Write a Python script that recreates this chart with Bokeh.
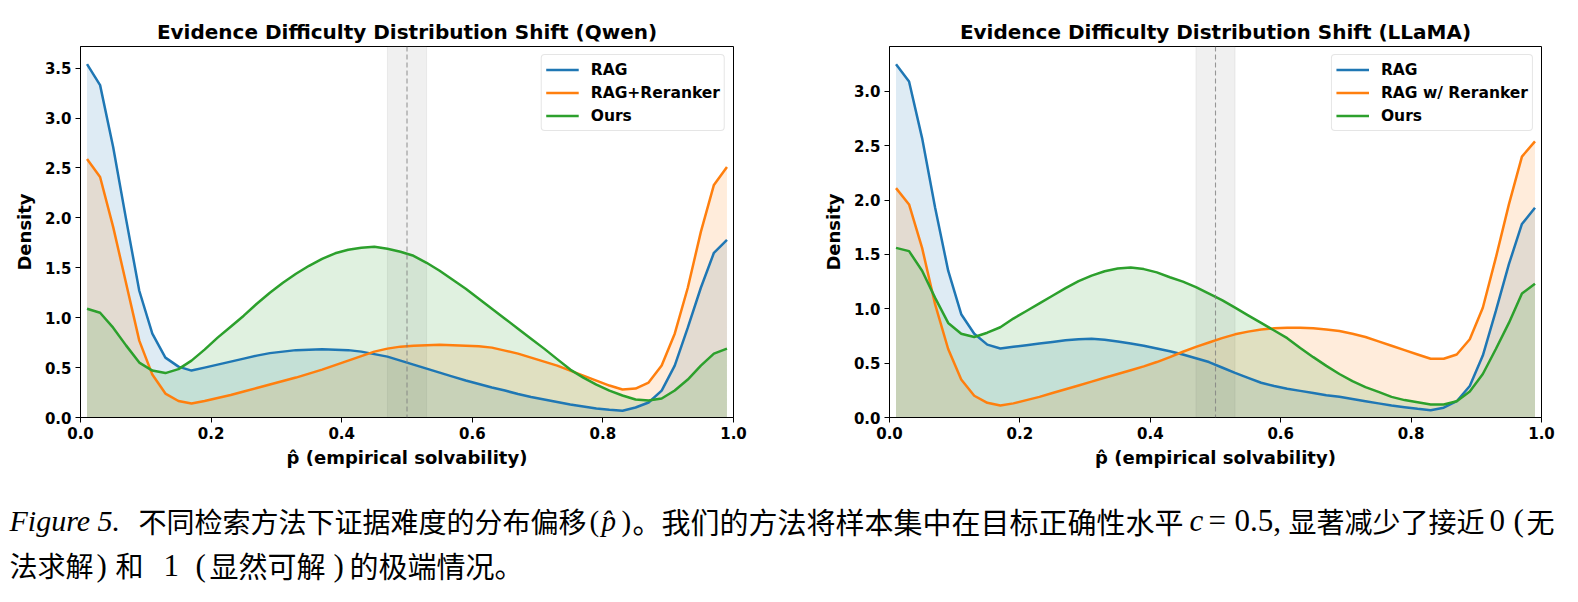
from bokeh.plotting import figure
from bokeh.models import (Range1d, FixedTicker, PrintfTickFormatter, Span,
                          BoxAnnotation, Legend, LegendItem)
from bokeh.layouts import column, row
from bokeh.embed import file_html
from bokeh.resources import INLINE
from bokeh.core.properties import value

# ---------------- data ----------------
p_hat = [0.01, 0.03, 0.05, 0.07, 0.09, 0.11, 0.13, 0.15, 0.17, 0.19,
         0.21, 0.23, 0.25, 0.27, 0.29, 0.31, 0.33, 0.35, 0.37, 0.39,
         0.41, 0.43, 0.45, 0.47, 0.49, 0.51, 0.53, 0.55, 0.57, 0.59,
         0.61, 0.63, 0.65, 0.67, 0.69, 0.71, 0.73, 0.75, 0.77, 0.79,
         0.81, 0.83, 0.85, 0.87, 0.89, 0.91, 0.93, 0.95, 0.97, 0.99]

qwen_rag = [3.54, 3.33, 2.71, 1.98, 1.27, 0.84, 0.60, 0.51, 0.47, 0.50,
            0.53, 0.56, 0.59, 0.62, 0.645, 0.66, 0.675, 0.68, 0.685, 0.68,
            0.675, 0.66, 0.635, 0.61, 0.57, 0.53, 0.49, 0.45, 0.41, 0.37,
            0.335, 0.30, 0.27, 0.235, 0.205, 0.18, 0.155, 0.13, 0.11, 0.09,
            0.078, 0.067, 0.10, 0.15, 0.27, 0.52, 0.90, 1.30, 1.65, 1.78]
qwen_rerank = [2.59, 2.41, 1.91, 1.34, 0.77, 0.43, 0.24, 0.165, 0.14, 0.165,
               0.195, 0.225, 0.26, 0.295, 0.33, 0.365, 0.40, 0.44, 0.48, 0.525,
               0.57, 0.615, 0.66, 0.69, 0.71, 0.72, 0.725, 0.73, 0.725, 0.72,
               0.715, 0.70, 0.67, 0.64, 0.60, 0.56, 0.52, 0.47, 0.42, 0.37,
               0.32, 0.28, 0.29, 0.35, 0.52, 0.84, 1.30, 1.86, 2.33, 2.51]
qwen_ours = [1.09, 1.05, 0.90, 0.72, 0.55, 0.47, 0.445, 0.485, 0.57, 0.68,
             0.80, 0.91, 1.02, 1.14, 1.25, 1.35, 1.44, 1.52, 1.59, 1.645,
             1.68, 1.70, 1.71, 1.69, 1.66, 1.62, 1.55, 1.47, 1.38, 1.29,
             1.19, 1.09, 0.99, 0.89, 0.79, 0.69, 0.585, 0.48, 0.40, 0.33,
             0.27, 0.22, 0.18, 0.17, 0.19, 0.27, 0.38, 0.52, 0.64, 0.69]

llama_rag = [3.25, 3.09, 2.57, 1.93, 1.35, 0.95, 0.77, 0.67, 0.635, 0.65,
             0.665, 0.68, 0.695, 0.71, 0.72, 0.725, 0.715, 0.70, 0.68, 0.66,
             0.635, 0.61, 0.58, 0.545, 0.51, 0.46, 0.41, 0.365, 0.32, 0.29,
             0.265, 0.245, 0.225, 0.205, 0.19, 0.17, 0.15, 0.13, 0.11, 0.095,
             0.08, 0.067, 0.09, 0.15, 0.29, 0.57, 0.98, 1.41, 1.78, 1.93]
llama_rerank = [2.11, 1.96, 1.56, 1.04, 0.63, 0.35, 0.20, 0.135, 0.11, 0.13,
                0.16, 0.19, 0.225, 0.26, 0.295, 0.33, 0.365, 0.40, 0.435, 0.47,
                0.51, 0.555, 0.605, 0.65, 0.69, 0.73, 0.765, 0.79, 0.81, 0.82,
                0.825, 0.825, 0.82, 0.81, 0.795, 0.77, 0.74, 0.70, 0.66, 0.62,
                0.58, 0.54, 0.54, 0.58, 0.72, 1.01, 1.47, 1.96, 2.40, 2.54]
llama_ours = [1.56, 1.53, 1.35, 1.10, 0.87, 0.77, 0.74, 0.78, 0.83, 0.91,
              0.98, 1.05, 1.12, 1.19, 1.255, 1.305, 1.345, 1.37, 1.38, 1.365,
              1.335, 1.29, 1.25, 1.20, 1.14, 1.08, 1.01, 0.94, 0.87, 0.80,
              0.73, 0.64, 0.555, 0.475, 0.40, 0.335, 0.28, 0.235, 0.19, 0.16,
              0.14, 0.12, 0.12, 0.15, 0.24, 0.40, 0.63, 0.87, 1.14, 1.23]

qwen_labels = ["RAG", "RAG+Reranker", "Ours"]
llama_labels = ["RAG", "RAG w/ Reranker", "Ours"]
x_ticks = [0.0, 0.2, 0.4, 0.6, 0.8, 1.0]
qwen_y_ticks = [0.0, 0.5, 1.0, 1.5, 2.0, 2.5, 3.0, 3.5]
llama_y_ticks = [0.0, 0.5, 1.0, 1.5, 2.0, 2.5, 3.0]
target_c = 0.5
band_half = 0.03

colors = ["#1f77b4", "#ff7f0e", "#2ca02c"]
FONT = "DejaVu Sans"
PLOT_H = 478


def make_panel(title, series, labels, y_ticks, width, b_left, b_right):
    ymax = max(max(s) for s in series) * 1.05
    p = figure(width=width, height=PLOT_H, output_backend="svg",
               toolbar_location=None,
               x_range=Range1d(0, 1), y_range=Range1d(0, ymax),
               min_border_left=b_left, min_border_right=b_right,
               min_border_top=46, min_border_bottom=61)
    p.title.text = title
    p.title.align = "center"
    p.title.text_font = FONT
    p.title.text_font_style = "bold"
    p.title.text_font_size = "20px"
    p.title.text_color = "black"
    p.title.standoff = 5
    p.xgrid.grid_line_color = None
    p.ygrid.grid_line_color = None
    p.outline_line_color = "black"
    p.outline_line_alpha = 1
    p.outline_line_width = 1
    p.background_fill_color = "white"

    band = BoxAnnotation(left=target_c - band_half, right=target_c + band_half,
                         fill_color="gray", fill_alpha=0.12,
                         line_color="gray", line_alpha=0.12, level="underlay")
    p.add_layout(band)

    rends = []
    for s, c in zip(series, colors):
        p.varea(x=p_hat, y1=0, y2=s, fill_color=c, fill_alpha=0.15)
    for s, c in zip(series, colors):
        r = p.line(x=p_hat, y=s, line_color=c, line_width=2.5)
        rends.append(r)

    p.add_layout(Span(location=target_c, dimension="height", line_color="gray",
                      line_alpha=0.8, line_width=1.1, line_dash="5 3"))

    legend = Legend(items=[LegendItem(label=l, renderers=[r])
                           for l, r in zip(labels, rends)],
                    location="top_right")
    legend.label_text_font = FONT
    legend.label_text_font_style = "bold"
    legend.label_text_font_size = "15.5px"
    legend.label_text_color = "black"
    legend.border_line_color = "#cccccc"
    legend.border_line_width = 1
    legend.background_fill_color = "white"
    legend.background_fill_alpha = 0.8
    legend.margin = 8
    legend.padding = 4
    legend.spacing = 2
    legend.glyph_width = 33
    legend.glyph_height = 21
    legend.label_height = 21
    legend.label_standoff = 12
    if "border_radius" in legend.properties():
        legend.border_radius = 4
    p.add_layout(legend)

    p.xaxis.ticker = FixedTicker(ticks=x_ticks)
    p.yaxis.ticker = FixedTicker(ticks=y_ticks)
    p.xaxis.formatter = PrintfTickFormatter(format="%.1f")
    p.yaxis.formatter = PrintfTickFormatter(format="%.1f")
    p.xaxis.axis_label = "p\u0302 (empirical solvability)"
    p.yaxis.axis_label = "Density"
    for ax in (p.xaxis, p.yaxis):
        ax.major_label_text_font = FONT
        ax.major_label_text_font_style = "bold"
        ax.major_label_text_font_size = "15px"
        ax.major_label_text_color = "black"
        ax.axis_label_text_font = FONT
        ax.axis_label_text_font_style = "bold"
        ax.axis_label_text_font_size = "18px"
        ax.axis_label_text_color = "black"
        ax.minor_tick_line_color = None
        ax.major_tick_in = 0
        ax.major_tick_out = 5
        ax.major_tick_line_width = 1
        ax.axis_line_width = 1
    p.xaxis.major_label_standoff = 4
    p.xaxis.axis_label_standoff = 5
    p.yaxis.major_label_standoff = 4
    p.yaxis.axis_label_standoff = 7
    return p


p1 = make_panel("Evidence Difficulty Distribution Shift (Qwen)",
                [qwen_rag, qwen_rerank, qwen_ours], qwen_labels, qwen_y_ticks,
                790, 80, 57)
p2 = make_panel("Evidence Difficulty Distribution Shift (LLaMA)",
                [llama_rag, llama_rerank, llama_ours], llama_labels, llama_y_ticks,
                772, 99, 21)

# ---------------- caption ----------------
CAP_W, CAP_H = 1562, 108
cap = figure(width=CAP_W, height=CAP_H, output_backend="svg", toolbar_location=None,
             x_range=Range1d(0, CAP_W), y_range=Range1d(CAP_H, 0),
             x_axis_type=None, y_axis_type=None,
             min_border=0, min_border_left=0, min_border_right=0,
             min_border_top=0, min_border_bottom=0)
cap.outline_line_color = None
cap.xgrid.grid_line_color = None
cap.ygrid.grid_line_color = None

CJK = "Noto Sans CJK SC"
SERIF = "Liberation Serif"
L1, L2 = 42, 86.5
DX = 5
segments = [
    ("Figure 5.", 4, L1, SERIF, "italic", "30px"),
    ("不同检索方法下证据难度的分布偏移", 133, L1, CJK, "normal", "28px"),
    ("(", 584, L1, SERIF, "normal", "29px"),
    ("p\u0302", 596, L1, SERIF, "italic", "29px"),
    (")", 616, L1, SERIF, "normal", "29px"),
    ("。我们的方法将样本集中在目标正确性水平", 627, L1, CJK, "normal", "29px"),
    ("c", 1184, L1, SERIF, "italic", "31px"),
    ("=", 1203, L1, SERIF, "normal", "31px"),
    ("0.5,", 1229, L1, SERIF, "normal", "31px"),
    ("显著减少了接近", 1283, L1, CJK, "normal", "28px"),
    ("0", 1484, L1, SERIF, "normal", "31px"),
    ("(", 1508, L1, SERIF, "normal", "31px"),
    ("无", 1521, L1, CJK, "normal", "28px"),
    ("法求解", 4, L2, CJK, "normal", "28px"),
    (")", 91, L2, SERIF, "normal", "31px"),
    ("和", 110, L2, CJK, "normal", "28px"),
    ("1", 158, L2, SERIF, "normal", "31px"),
    ("(", 190, L2, SERIF, "normal", "31px"),
    ("显然可解", 204, L2, CJK, "normal", "29px"),
    (")", 328, L2, SERIF, "normal", "31px"),
    ("的极端情况。", 344, L2, CJK, "normal", "29px"),
]
for txt, sx, sy, fnt, sty, size in segments:
    cap.text(x=[sx + DX], y=[sy], text=[txt], text_font=value(fnt),
             text_font_style=sty, text_font_size=value(size),
             text_color="black", text_align="left", text_baseline="alphabetic")

layout = column(row(p1, p2, spacing=0), cap, spacing=0)
open("out.html", "w").write(file_html(layout, INLINE))
